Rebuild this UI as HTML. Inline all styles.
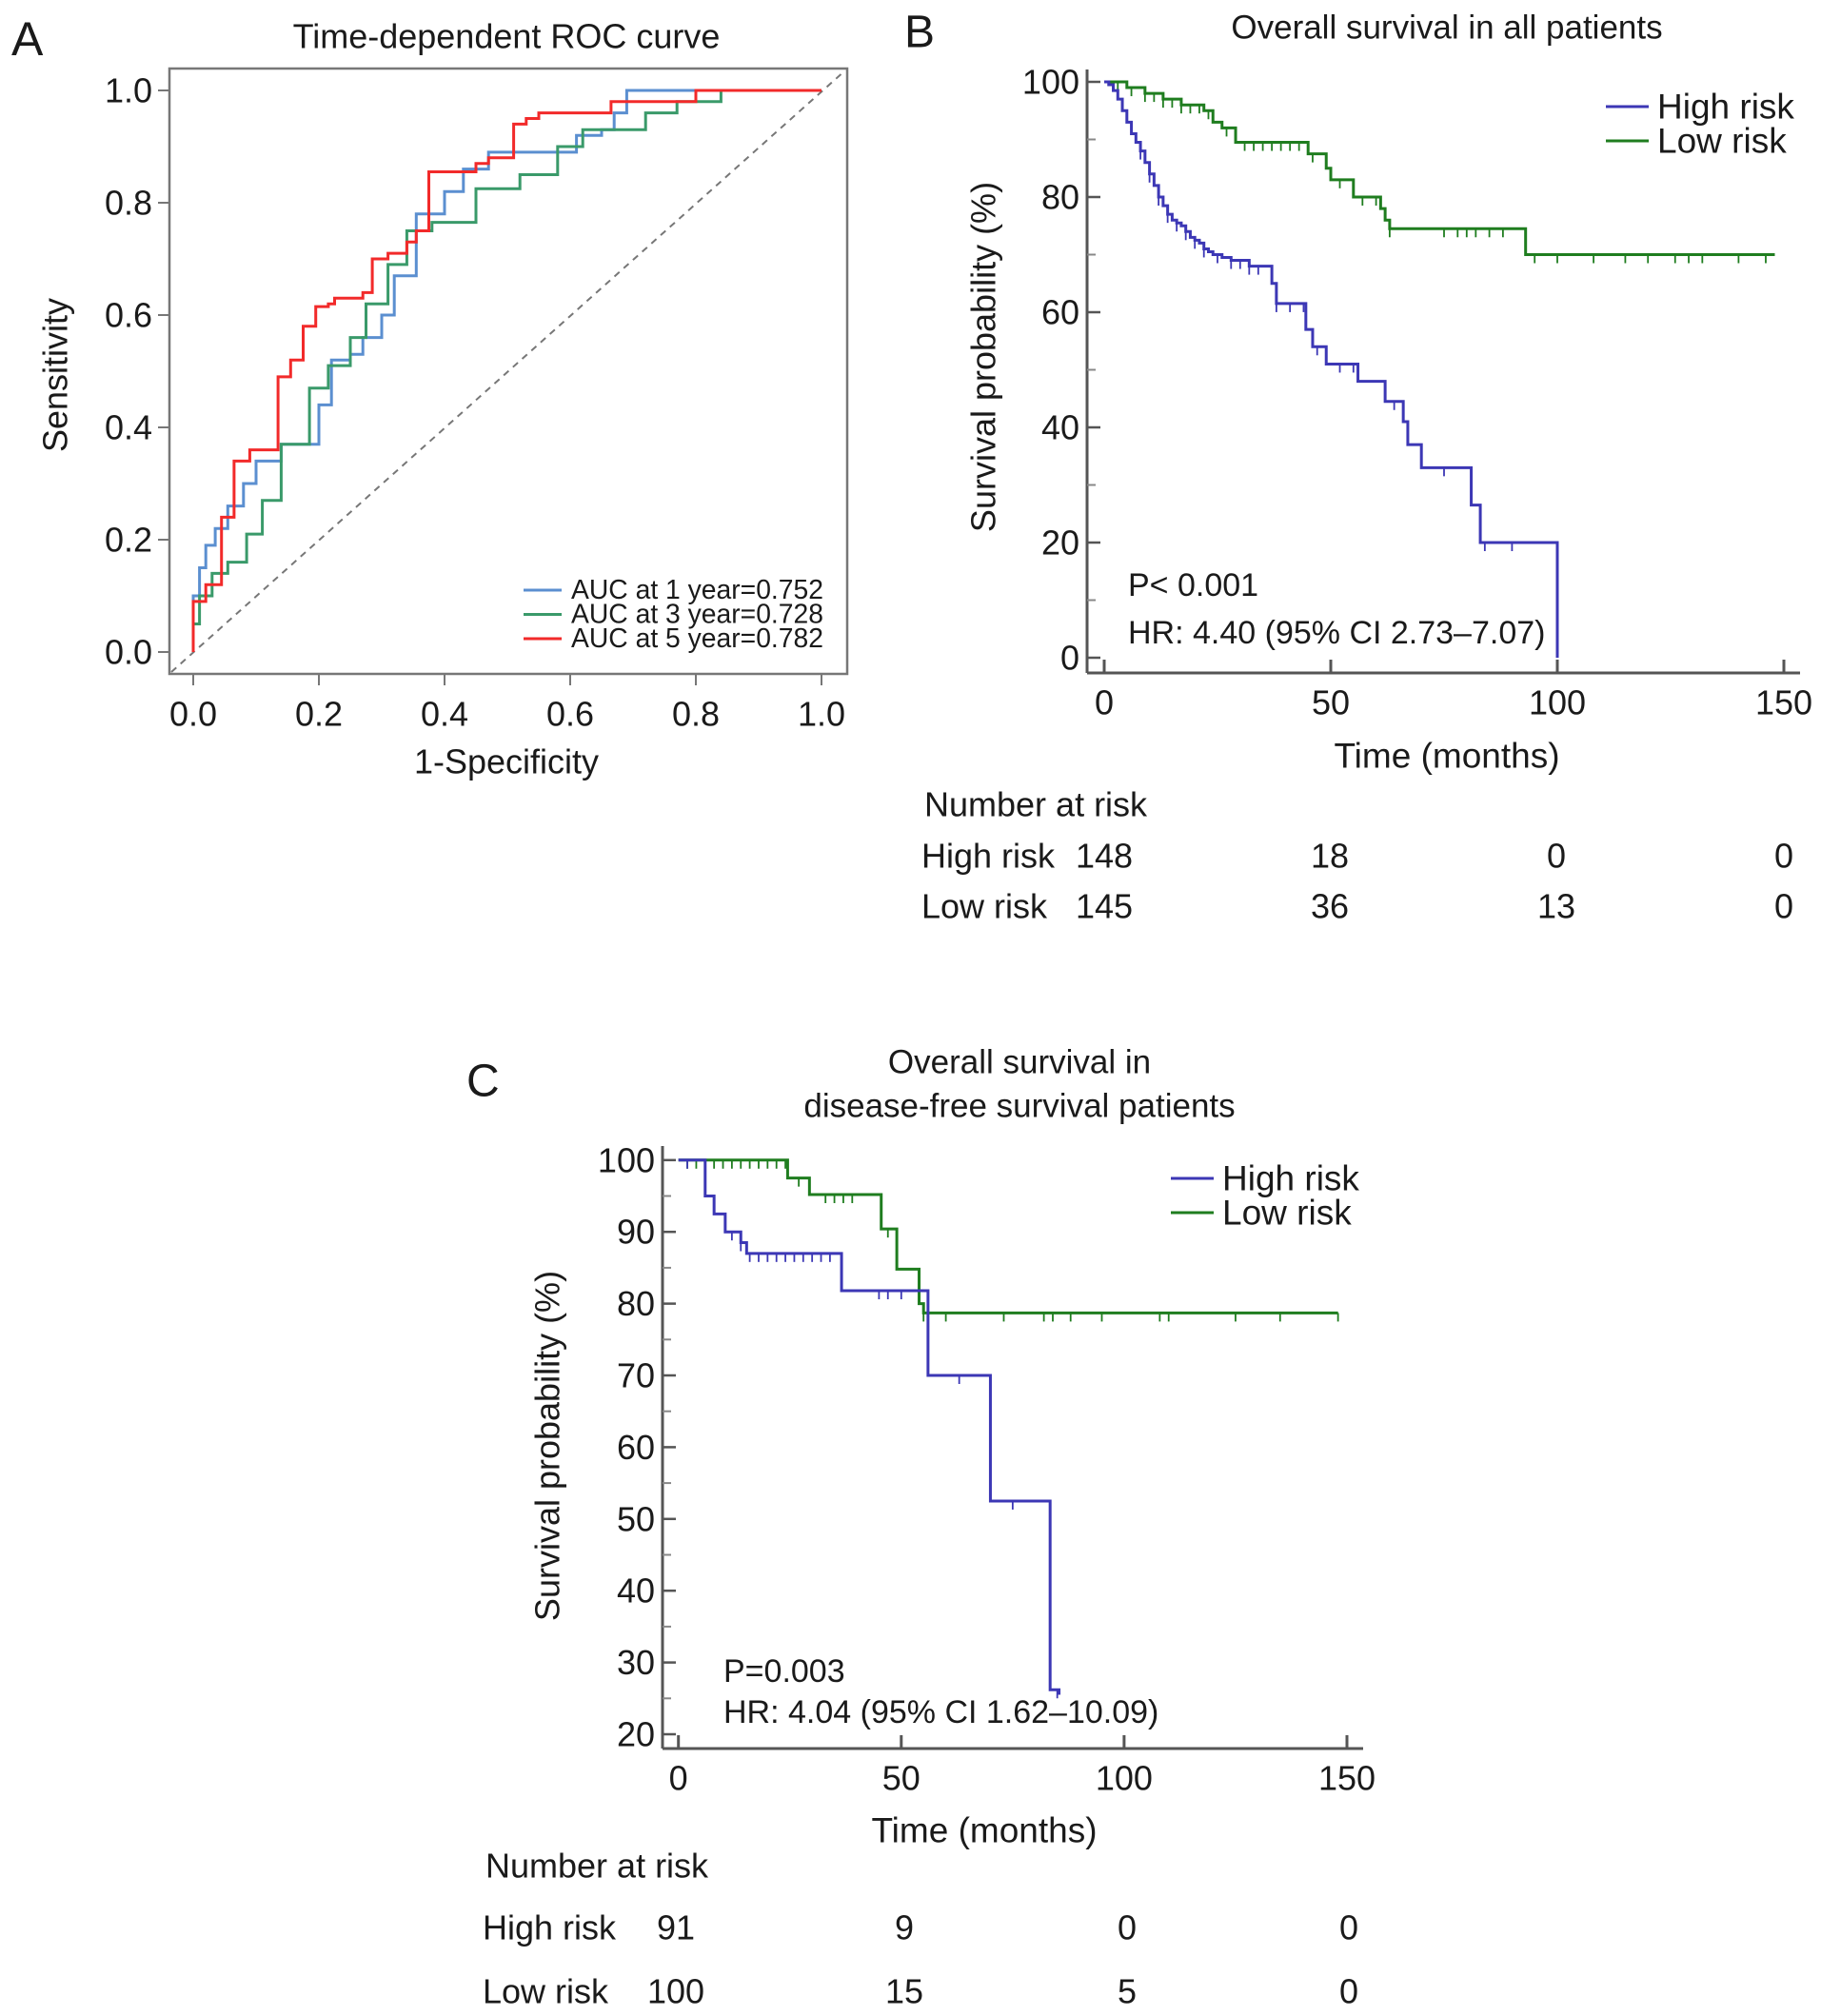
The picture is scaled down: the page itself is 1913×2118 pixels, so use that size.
<!DOCTYPE html>
<html><head><meta charset="utf-8"><style>
html,body{margin:0;padding:0;background:#fff;}
svg{display:block;font-family:"Liberation Sans",Arial,sans-serif;}
</style></head><body>
<svg id="fig" width="1913" height="2118" viewBox="0 0 1913 2118" xmlns="http://www.w3.org/2000/svg">
<rect x="0" y="0" width="1913" height="2118" fill="#fff"/>
<g id="pa"></g>
<g id="pb"></g>
<g id="pc"></g>
</svg>
<script>
// ---------- Panel A data ----------
const rocTicks = [0, 0.2, 0.4, 0.6, 0.8, 1.0];
const rocTickLabels = ["0.0","0.2","0.4","0.6","0.8","1.0"];
const roc1Fpr = [0,0,0.01,0.01,0.02,0.02,0.035,0.035,0.055,0.055,0.08,0.08,0.1,0.1,0.14,0.14,0.2,0.2,0.22,0.22,0.25,0.25,0.27,0.27,0.3,0.3,0.32,0.32,0.355,0.355,0.4,0.4,0.43,0.43,0.47,0.47,0.61,0.61,0.65,0.65,0.67,0.67,0.69,0.69,0.8];
const roc1Tpr = [0,0.10,0.10,0.15,0.15,0.19,0.19,0.22,0.22,0.26,0.26,0.30,0.30,0.34,0.34,0.37,0.37,0.44,0.44,0.52,0.52,0.53,0.53,0.56,0.56,0.60,0.60,0.67,0.67,0.78,0.78,0.82,0.82,0.86,0.86,0.89,0.89,0.92,0.92,0.93,0.93,0.96,0.96,1.0,1.0];
const roc3Fpr = [0,0,0.01,0.01,0.03,0.03,0.055,0.055,0.085,0.085,0.11,0.11,0.14,0.14,0.185,0.185,0.215,0.215,0.25,0.25,0.275,0.275,0.31,0.31,0.34,0.34,0.38,0.38,0.45,0.45,0.52,0.52,0.58,0.58,0.62,0.62,0.72,0.72,0.77,0.77,0.84,0.84];
const roc3Tpr = [0,0.05,0.05,0.10,0.10,0.14,0.14,0.16,0.16,0.21,0.21,0.27,0.27,0.37,0.37,0.47,0.47,0.51,0.51,0.56,0.56,0.62,0.62,0.69,0.69,0.75,0.75,0.765,0.765,0.825,0.825,0.85,0.85,0.90,0.90,0.93,0.93,0.96,0.96,0.98,0.98,1.0];
const roc5Fpr = [0,0,0.02,0.02,0.045,0.045,0.065,0.065,0.09,0.09,0.135,0.135,0.155,0.155,0.175,0.175,0.195,0.195,0.215,0.215,0.225,0.225,0.27,0.27,0.285,0.285,0.31,0.31,0.34,0.34,0.355,0.355,0.375,0.375,0.45,0.45,0.47,0.47,0.51,0.51,0.53,0.53,0.55,0.55,0.665,0.665,0.8,0.8,1.0];
const roc5Tpr = [0,0.09,0.09,0.12,0.12,0.24,0.24,0.34,0.34,0.36,0.36,0.49,0.49,0.52,0.52,0.58,0.58,0.615,0.615,0.62,0.62,0.63,0.63,0.64,0.64,0.70,0.70,0.71,0.71,0.73,0.73,0.75,0.75,0.855,0.855,0.87,0.87,0.88,0.88,0.94,0.94,0.95,0.95,0.96,0.96,0.98,0.98,1.0,1.0];
const rocLegend = ["AUC at 1 year=0.752","AUC at 3 year=0.728","AUC at 5 year=0.782"];

// ---------- Panel B data ----------
const bXTicks = [0,50,100,150];
const bYTicks = [0,20,40,60,80,100];
const bHighT = [0,1,2,3,4,5,6,7,8,9,10,11,12,13,14,15,16,17,18,19,20,21,22,23,24,26,28,32,37,38,44.5,46,49,56,62,66,67,70,81,83,100,100];
const bHighS = [100,99.5,98.5,97,95,93,91,89.5,88,86,84,82,80,78.5,77,76,75.5,75,74,73,72.5,72,71,70.5,70,69.5,69,68,65,61.5,57,54,51,48,44.5,41,37,33,26.5,20,20,0];
const bLowT = [0,5,9,13,17,22,24,26,29,45,49,50,55,61,62,63,93,148];
const bLowS = [100,99,98,97,96,95,93,92,89.5,87.5,85,83,80,78,76,74.5,70,70];
const bHighCens = [8,10,12,14,16,18,20,22,25,28,30,32,34,38,41,44,47,52,55,64,75,84,90];
const bLowCens = [3,6,9,11,13,15,17,19,21,23,27,31,33,35,37,39,41,43,46,52,57,60,63,75,78,80,82,85,88,95,100,108,115,120,126,129,132,140,146];
const bRiskHigh = ["148","18","0","0"];
const bRiskLow = ["145","36","13","0"];

// ---------- Panel C data ----------
const cXTicks = [0,50,100,150];
const cYTicks = [20,30,40,50,60,70,80,90,100];
const cHighT = [0,4.5,6,8,10.5,14,15.3,36.6,56,70,83.4,85.4];
const cHighS = [100,100,95,92.5,90,88.5,87,81.8,70,52.5,26.2,25.5];
const cLowT = [0,24.5,29.4,45.5,49,54,55,148];
const cLowS = [100,97.5,95.2,90.4,84.8,80,78.7,78.7];
const cHighCens = [2,12,14,16,18,20,22,24,26,28,30,32,34,45,47,50,63,75,85];
const cLowCens = [2,4,6,8,10,12,14,16,18,20,22,24,27,33,35,37,39,47,55,60,73,82,84,88,95,108,110,125,135,148];
const cRiskHigh = ["91","9","0","0"];
const cRiskLow = ["100","15","5","0"];

const NS = "http://www.w3.org/2000/svg";
function mk(tag, attrs, parent){ const e=document.createElementNS(NS,tag); for(const k in attrs) e.setAttribute(k,attrs[k]); parent.appendChild(e); return e; }
function txt(parent, x, y, s, size, anchor, extra){ const t=mk('text',Object.assign({x:x,y:y,'font-size':size,'text-anchor':anchor||'start','dominant-baseline':'central',fill:'#1a1a1a'},extra||{}),parent); t.textContent=s; return t; }

// ===== Panel A =====
(function(){
  const g=document.getElementById('pa');
  const X=v=>203+v*660, Y=v=>685-v*590;
  let e;
  e=txt(g,12,41,"A",50,'start');  
  e=txt(g,532,38,"Time-dependent ROC curve",36,'middle');  
  e=mk('rect',{x:178,y:72,width:712,height:636,fill:'none',stroke:'#777','stroke-width':2.5},g);  
  rocTicks.forEach((v,i)=>{
    let t=mk('line',{x1:X(v),x2:X(v),y1:708,y2:720,stroke:'#777','stroke-width':2},g);
     
    t=txt(g,X(v),750,rocTickLabels[i],36,'middle');
     
    t=mk('line',{x1:166,x2:178,y1:Y(v),y2:Y(v),stroke:'#777','stroke-width':2},g);
     
    t=txt(g,160,Y(v),rocTickLabels[i],36,'end');
     
  });
  e=txt(g,532,800,"1-Specificity",36,'middle');  
  e=txt(g,58,394,"Sensitivity",36,'middle',{transform:'rotate(-90 58 394)'});  
  e=mk('line',{x1:180,y1:706,x2:888,y2:74,stroke:'#777','stroke-width':2,'stroke-dasharray':'7,6'},g);  
  const series=[[roc1Fpr,roc1Tpr,'#5b8fd0','roc-curve-1-year'],[roc3Fpr,roc3Tpr,'#3a9a6a','roc-curve-3-year'],[roc5Fpr,roc5Tpr,'#f22a2a','roc-curve-5-year']];
  series.forEach(s=>{
    const pts=s[0].map((f,i)=>X(f)+','+Y(s[1][i])); pts.push(X(1)+','+Y(1));
    const p=mk('polyline',{points:pts.join(' '),fill:'none',stroke:s[2],'stroke-width':3},g);
     
  });
  rocLegend.forEach((s,i)=>{
    const y=620+i*25.5;
    let l=mk('line',{x1:550,x2:590,y1:y,y2:y,stroke:series[i][2],'stroke-width':3},g);
     
    l=txt(g,600,y,s,29,'start',{textLength:265,lengthAdjust:'spacingAndGlyphs'});
     
  });
})();

function stepPath(T,S,X,Y){ let d='M'+X(T[0])+','+Y(S[0]); for(let i=1;i<T.length;i++){ d+=' H'+X(T[i])+' V'+Y(S[i]); } return d; }
function survAt(T,S,t){ let v=S[0]; for(let i=0;i<T.length;i++){ if(T[i]<=t) v=S[i]; } return v; }

function km(g, cfg){
  const X=t=>cfg.x0+t*cfg.xs, Y=v=>cfg.y0-(v-cfg.ymin)*cfg.ys;
  let e;
  e=mk('line',{x1:cfg.ax,x2:cfg.ax,y1:cfg.atop,y2:cfg.abot,stroke:'#555','stroke-width':3},g);  
  e=mk('line',{x1:cfg.ax,x2:cfg.aright,y1:cfg.abot,y2:cfg.abot,stroke:'#555','stroke-width':3},g);  
  cfg.xt.forEach((v,i)=>{
    let t=mk('line',{x1:X(v),x2:X(v),y1:cfg.abot,y2:cfg.abot-14,stroke:'#555','stroke-width':3},g);
     
    t=txt(g,X(v),cfg.xly,String(v),36,'middle');
     
    t=txt(g,cfg.riskX[i],cfg.hy,cfg.rh[i],36,'middle');
     
    t=txt(g,cfg.riskX[i],cfg.ly,cfg.rl[i],36,'middle');
     
  });
  cfg.yt.forEach(v=>{
    let t=mk('line',{x1:cfg.ax,x2:cfg.ax+14,y1:Y(v),y2:Y(v),stroke:'#555','stroke-width':2.5},g);
     
    t=txt(g,cfg.ax-8,Y(v),String(v),36,'end');
     
    if(cfg.minor && v<cfg.yt[cfg.yt.length-1]){
      t=mk('line',{x1:cfg.ax,x2:cfg.ax+9,y1:Y(v+cfg.minor),y2:Y(v+cfg.minor),stroke:'#888','stroke-width':2},g);
       
    }
  });
  const blue='#3c37b5', green='#1f7d1f';
  [[cfg.lowT,cfg.lowS,cfg.lowC,green,'low-risk'],[cfg.highT,cfg.highS,cfg.highC,blue,'high-risk']].forEach(s=>{
    const p=mk('path',{d:stepPath(s[0],s[1],X,Y),fill:'none',stroke:s[3],'stroke-width':3},g);
     
    s[2].forEach(t=>{
      const yy=Y(survAt(s[0],s[1],t));
      const c=mk('line',{x1:X(t),x2:X(t),y1:yy,y2:yy+9,stroke:s[3],'stroke-width':1.8},g);
       
    });
  });
  [['High risk',blue,cfg.legY[0]],['Low risk',green,cfg.legY[1]]].forEach(l=>{
    let e2=mk('line',{x1:cfg.legX,x2:cfg.legX+45,y1:l[2],y2:l[2],stroke:l[1],'stroke-width':3},g);
     
    e2=txt(g,cfg.legX+54,l[2],l[0],37,'start');
     
  });
  e=txt(g,cfg.pX,cfg.pY,cfg.pText,34,'start');  
  e=txt(g,cfg.pX,cfg.hrY,cfg.hrText,34,'start');  
  e=txt(g,cfg.xcx,cfg.xty,'Time (months)',37,'middle');  
  e=txt(g,cfg.ylx,cfg.yly,'Survival probability (%)',36,'middle',{transform:'rotate(-90 '+cfg.ylx+' '+cfg.yly+')'});  
  e=txt(g,cfg.nX+3,cfg.ny,'Number at risk',36,'start');  
  e=txt(g,cfg.nX,cfg.hy,'High risk',36,'start');  
  e=txt(g,cfg.nX,cfg.ly,'Low risk',36,'start');  
}

// ===== Panel B =====
(function(){
  const g=document.getElementById('pb');
  let e=txt(g,950,34,"B",48,'start');  
  e=txt(g,1520,29,"Overall survival in all patients",35,'middle');  
  km(g,{x0:1160,xs:238/50,y0:691,ymin:0,ys:6.05,ax:1142,atop:73,abot:707,aright:1891,
    xt:bXTicks,yt:bYTicks,minor:10,xly:738,xcx:1520,xty:794,ylx:1033,yly:375,
    highT:bHighT,highS:bHighS,lowT:bLowT,lowS:bLowS,highC:bHighCens,lowC:bLowCens,
    legX:1687,legY:[112,148],pX:1185,pY:615,hrY:665,pText:'P< 0.001',hrText:'HR: 4.40 (95% CI 2.73–7.07)',
    nX:968,ny:845,hy:899,ly:952,riskX:[1160,1397,1635,1874],rh:bRiskHigh,rl:bRiskLow});
})();

// ===== Panel C =====
(function(){
  const g=document.getElementById('pc');
  let e=txt(g,490,1136,"C",48,'start');  
  e=txt(g,1071,1116,"Overall survival in",35,'middle');  
  e=txt(g,1071,1162,"disease-free survival patients",35,'middle');  
  km(g,{x0:712.7,xs:4.682,y0:1822,ymin:20,ys:7.54,ax:696,atop:1204,abot:1837,aright:1432,
    xt:cXTicks,yt:cYTicks,minor:5,xly:1868,xcx:1034,xty:1923,ylx:575,yly:1519,
    highT:cHighT,highS:cHighS,lowT:cLowT,lowS:cLowS,highC:cHighCens,lowC:cLowCens,
    legX:1230,legY:[1238,1274],pX:760,pY:1756,hrY:1799,pText:'P=0.003',hrText:'HR: 4.04 (95% CI 1.62–10.09)',
    nX:507,ny:1960,hy:2025,ly:2092,riskX:[710,950,1184,1417],rh:cRiskHigh,rl:cRiskLow});
})();
</script>
</body></html>
